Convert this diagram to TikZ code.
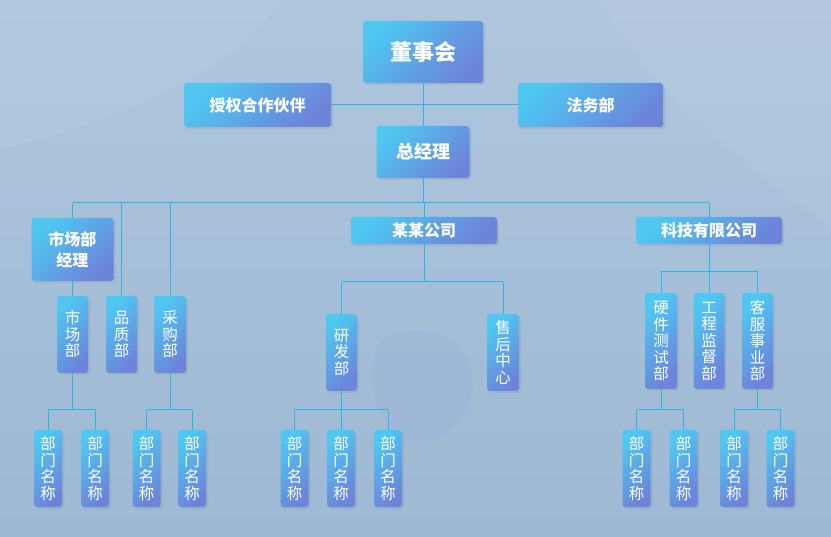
\documentclass[tikz,border=0pt]{standalone}
\usepackage{fontspec}
\newfontfamily\cjk{Noto Sans CJK SC}
\usetikzlibrary{shadows}
\definecolor{bgTop}{HTML}{AFC6DD}
\definecolor{bgBot}{HTML}{9EB9D4}
\definecolor{boxA}{HTML}{4FC7F1}
\definecolor{boxB}{HTML}{6C84DA}
\definecolor{lnk}{HTML}{24B8E6}

\tikzset{
  box/.style={rounded corners=3pt, top color=boxA, bottom color=boxB,
              shading angle=45, text=white, inner sep=0pt,
              drop shadow={opacity=.18, shadow xshift=2pt, shadow yshift=-2pt}},
  hbox/.style={box, font=\cjk\bfseries\fontsize{16}{21}\selectfont, align=center},
  vbox/.style={box, align=center, font=\cjk\fontsize{15.5}{16.5}\selectfont,
               minimum width=31pt},
  leaf/.style={vbox, minimum width=28pt, minimum height=77pt},
  link/.style={draw=lnk, line width=1pt},
}

\begin{document}
\begin{tikzpicture}[x=1pt, y=-1pt]
  % background
  \shade[top color=bgTop, bottom color=bgBot] (0,0) rectangle (831,537);
  \useasboundingbox (0,0) rectangle (831,537);
  \fill[white, opacity=.06] (0,0) -- (280,0) .. controls (240,70) and (120,120) .. (0,150) -- cycle;
  \fill[white, opacity=.05] (600,0) -- (831,0) -- (831,230) .. controls (770,180) and (660,110) .. cycle;
  \fill[blue!40!bgBot, opacity=.06] (380,340) .. controls (440,310) and (500,360) .. (460,420)
        .. controls (420,470) and (350,420) .. cycle;

  % top level
  \node[hbox, minimum width=120pt, minimum height=62pt,
        font=\cjk\bfseries\fontsize{22}{24}\selectfont] (board) at (423,52) {董事会};
  \node[hbox, minimum width=147pt, minimum height=44pt] (partner) at (257.5,105) {授权合作伙伴};
  \node[hbox, minimum width=145pt, minimum height=44pt] (legal) at (590.5,105) {法务部};
  \node[hbox, minimum width=93pt, minimum height=52pt,
        font=\cjk\bfseries\fontsize{18}{20}\selectfont] (gm) at (423,152) {总经理};

  % second level
  \node[hbox, minimum width=82pt, minimum height=63pt] (mktmgr) at (72.5,249.5) {市场部\\经理};
  \node[hbox, minimum width=146pt, minimum height=27pt] (corp) at (424,230.5) {某某公司};
  \node[hbox, minimum width=146pt, minimum height=27pt] (tech) at (709,230.5) {科技有限公司};

  % departments
  \node[vbox, minimum height=77pt] (mkt) at (72.5,334.5) {市\\场\\部};
  \node[vbox, minimum height=77pt] (qual) at (121.5,334.5) {品\\质\\部};
  \node[vbox, minimum height=77pt, minimum width=32pt] (purch) at (170,334.5) {采\\购\\部};
  \node[vbox, minimum height=77pt] (rnd) at (341.5,352.5) {研\\发\\部};
  \node[vbox, minimum height=77pt, minimum width=32pt] (after) at (503,352.5) {售\\后\\中\\心};
  \node[vbox, minimum height=96pt, minimum width=32pt] (hwtest) at (661,341) {硬\\件\\测\\试\\部};
  \node[vbox, minimum height=96pt] (eng) at (709,341) {工\\程\\监\\督\\部};
  \node[vbox, minimum height=96pt] (cs) at (757.5,341) {客\\服\\事\\业\\部};

  % leaves
  \foreach \d/\x in {d1/48, d2/95, d3/146.5, d4/192, d5/294.5, d6/341, d7/388,
                     d8/636.5, d9/683.5, d10/734, d11/780.5}
    \node[leaf] (\d) at (\x,468.5) {部\\门\\名\\称};

  % connectors, top
  \draw[link] (board) -- (gm);
  \draw[link] (partner) -- (legal);

  \coordinate (bus) at (423,203);
  \draw[link] (gm.south) -- (bus);
  \draw[link] (bus -| mktmgr) -- (bus -| tech);
  \foreach \n in {mktmgr, qual, purch, corp, tech}
    \draw[link] (bus -| \n) -- (\n.north);
  \draw[link] (mktmgr) -- (mkt);

  \coordinate (corpbus) at (424,282);
  \draw[link] (corp.south) -- (corpbus);
  \draw[link] (corpbus -| rnd) -- (corpbus -| after);
  \foreach \n in {rnd, after}
    \draw[link] (corpbus -| \n) -- (\n.north);

  \coordinate (techbus) at (709,272);
  \draw[link] (tech.south) -- (techbus);
  \draw[link] (techbus -| hwtest) -- (techbus -| cs);
  \foreach \n in {hwtest, eng, cs}
    \draw[link] (techbus -| \n) -- (\n.north);

  % connectors, leaves
  \coordinate (lvl) at (0,410);
  \foreach \p/\a/\b in {mkt/d1/d2, purch/d3/d4, rnd/d5/d7, hwtest/d8/d9, cs/d10/d11} {
    \draw[link] (\p.south) -- (\p.south |- lvl);
    \draw[link] (\a.north |- lvl) -- (\b.north |- lvl);
  }
  \foreach \d in {d1,d2,d3,d4,d5,d6,d7,d8,d9,d10,d11}
    \draw[link] (\d.north |- lvl) -- (\d.north);
\end{tikzpicture}
\end{document}
